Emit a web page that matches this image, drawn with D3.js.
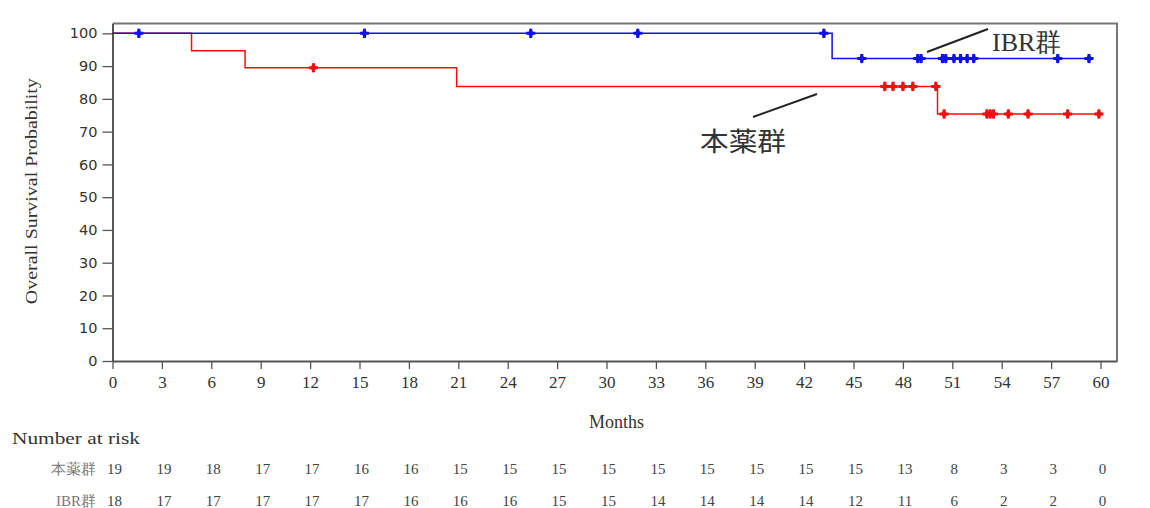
<!DOCTYPE html>
<html>
<head>
<meta charset="utf-8">
<script src="https://cdn.jsdelivr.net/npm/d3@7"></script>
<style>
  body { margin: 0; background: #fff; }
  svg { display: block; }
</style>
</head>
<body>
<div id="chart"></div>
<script>
// Kaplan-Meier step data (months, % surviving)
var drugTimes = [0, 4.8, 8.05, 20.9, 50.1, 59.9];
var drugSurv = [100, 94.7, 89.5, 83.8, 75.4, 75.4];
var drugCensor = [12.2, 46.9, 47.4, 48.0, 48.6, 50.0, 50.5, 53.1, 53.3, 53.5, 54.4, 55.6, 58.0, 59.9];

var ibrTimes = [0, 43.7, 59.3];
var ibrSurv = [100, 92.3, 92.3];
var ibrCensor = [1.6, 15.3, 25.4, 31.9, 43.2, 45.5, 48.9, 49.1, 50.4, 50.6, 51.1, 51.5, 51.9, 52.3, 57.4, 59.3];

// number at risk table
var riskTimes = d3.range(0, 61, 3);
var drugRisk = [19, 19, 18, 17, 17, 16, 16, 15, 15, 15, 15, 15, 15, 15, 15, 15, 13, 8, 3, 3, 0];
var ibrRisk = [18, 17, 17, 17, 17, 17, 16, 16, 16, 15, 15, 14, 14, 14, 14, 12, 11, 6, 2, 2, 0];

var yTicks = d3.range(0, 101, 10);

var svgWidth = 1150;
var svgHeight = 508;

var margin = { top: 23.5, right: 33, bottom: 147, left: 112.5 };
var width = svgWidth - margin.left - margin.right;
var height = svgHeight - margin.top - margin.bottom;

var svg = d3.select("#chart")
  .append("svg")
  .attr("width", svgWidth)
  .attr("height", svgHeight);

var chartGroup = svg.append("g")
  .attr("transform", `translate(${margin.left}, ${margin.top})`);

var xScale = d3.scaleLinear().domain([0, 61]).range([0, width]);
var yScale = d3.scaleLinear().domain([0, 103]).range([height, 0]);

// frame (top and right)
chartGroup.append("path")
  .attr("d", `M0,0H${width}V${height}`)
  .attr("fill", "none")
  .attr("stroke", "#777")
  .attr("stroke-width", 2);

// axes
var bottomAxis = d3.axisBottom(xScale).tickValues(riskTimes).tickSize(8).tickSizeOuter(0);
var leftAxis = d3.axisLeft(yScale).tickValues(yTicks).tickSize(10).tickSizeOuter(0);

var xAxis = chartGroup.append("g")
  .attr("transform", `translate(0, ${height})`)
  .call(bottomAxis);

xAxis.select(".domain").attr("stroke", "#555").attr("stroke-width", 2);
xAxis.selectAll(".tick line").attr("stroke", "#555").attr("stroke-width", 1.3);
xAxis.selectAll(".tick text")
  .attr("y", 15)
  .attr("fill", "#333")
  .style("font-family", "Liberation Serif")
  .style("font-size", "17px");

var yAxis = chartGroup.append("g").call(leftAxis);
yAxis.select(".domain").attr("stroke", "#555").attr("stroke-width", 2);
yAxis.selectAll(".tick line").attr("stroke", "#555").attr("stroke-width", 1.3);
yAxis.selectAll(".tick text")
  .attr("x", -15)
  .attr("fill", "#333")
  .style("font-family", "DejaVu Sans")
  .style("font-size", "14.5px");

// axis titles
chartGroup.append("text")
  .attr("transform", "rotate(-90)")
  .attr("x", -(yScale(100) + (height - yScale(100)) / 2) + 6)
  .attr("y", -margin.left + 37)
  .attr("text-anchor", "middle")
  .attr("fill", "#333")
  .style("font-family", "Liberation Serif")
  .style("font-size", "17px")
  .attr("textLength", 226)
  .attr("lengthAdjust", "spacingAndGlyphs")
  .text("Overall Survival Probability");

chartGroup.append("text")
  .attr("x", xScale(30.6))
  .attr("y", height + 67)
  .attr("text-anchor", "middle")
  .attr("fill", "#333")
  .style("font-family", "Liberation Serif")
  .style("font-size", "18px")
  .text("Months");

// survival curves
var line = d3.line()
  .x((d) => xScale(d[0]))
  .y((d) => yScale(d[1]))
  .curve(d3.curveStepAfter);

function survAt(times, surv, t) {
  var i = d3.bisectRight(times, t) - 1;
  return surv[Math.max(0, i)];
}

var groups = [
  { times: drugTimes, surv: drugSurv, censor: drugCensor, color: "#f01010" },
  { times: ibrTimes, surv: ibrSurv, censor: ibrCensor, color: "#1010f0" },
];

groups.forEach(function (g) {
  chartGroup.append("path")
    .datum(d3.zip(g.times, g.surv))
    .attr("d", line)
    .attr("fill", "none")
    .attr("stroke", g.color)
    .attr("stroke-width", 1.5);

  chartGroup.selectAll(null)
    .data(g.censor)
    .enter()
    .append("path")
    .attr("transform", (t) => `translate(${xScale(t)}, ${yScale(survAt(g.times, g.surv, t))})`)
    .attr("d", d3.symbol().type(d3.symbolCross).size(46))
    .attr("fill", g.color);

  chartGroup.selectAll(null)
    .data(g.censor)
    .enter()
    .append("path")
    .attr("transform", (t) => `translate(${xScale(t)}, ${yScale(survAt(g.times, g.surv, t))})`)
    .attr("d", d3.symbol().type(d3.symbolDiamond).size(30))
    .attr("fill", g.color);
});

// curve labels with leader lines
svg.append("line")
  .attr("x1", 927).attr("y1", 52).attr("x2", 988).attr("y2", 29)
  .attr("stroke", "#222").attr("stroke-width", 2);

svg.append("text")
  .attr("x", 992)
  .attr("y", 51)
  .attr("fill", "#333")
  .style("font-family", "Liberation Serif")
  .style("font-size", "26px")
  .text("IBR群");

svg.append("line")
  .attr("x1", 753).attr("y1", 117).attr("x2", 817).attr("y2", 94)
  .attr("stroke", "#222").attr("stroke-width", 2);

svg.append("text")
  .attr("x", 700)
  .attr("y", 151)
  .attr("fill", "#333")
  .style("font-family", "Noto Sans CJK JP")
  .style("font-size", "26px")
  .attr("textLength", 86)
  .attr("lengthAdjust", "spacingAndGlyphs")
  .text("本薬群");

// number at risk
svg.append("text")
  .attr("x", 12)
  .attr("y", 444)
  .attr("fill", "#333")
  .style("font-family", "Liberation Serif")
  .style("font-size", "17px")
  .attr("textLength", 128)
  .attr("lengthAdjust", "spacingAndGlyphs")
  .text("Number at risk");

var riskRows = [
  { label: "本薬群", values: drugRisk, y: 474 },
  { label: "IBR群", values: ibrRisk, y: 506 },
];

riskRows.forEach(function (row) {
  svg.append("text")
    .attr("x", 96)
    .attr("y", row.y)
    .attr("text-anchor", "end")
    .attr("fill", "#777")
    .style("font-family", "Liberation Serif")
    .style("font-size", "15px")
    .text(row.label);

  svg.selectAll(null)
    .data(row.values)
    .enter()
    .append("text")
    .attr("x", (d, i) => margin.left + xScale(riskTimes[i]) + 2)
    .attr("y", row.y)
    .attr("text-anchor", "middle")
    .attr("fill", "#444")
    .style("font-family", "Liberation Serif")
    .style("font-size", "15px")
    .text((d) => d);
});
</script>
</body>
</html>
